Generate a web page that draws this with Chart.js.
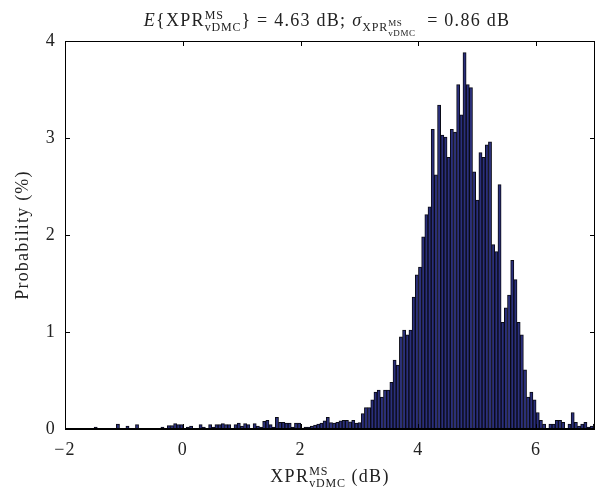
<!DOCTYPE html>
<html>
<head>
<meta charset="utf-8">
<script src="https://cdn.jsdelivr.net/npm/chart.js@4/dist/chart.umd.min.js"></script>
<style>
  html, body { margin: 0; padding: 0; background: #fff; }
  #wrap { width: 598px; height: 495px; position: relative; }
</style>
</head>
<body>
<div id="wrap"><canvas id="chart"></canvas></div>
<script>
// histogram bins: first bin starts at binStart, all bins binWidth wide (dB)
const binStart = -1.992;
const binWidth = 0.054;

// probability (%) per bin
const probability = [
  0, 0, 0, 0, 0, 0, 0, 0, 0, 0.02,
  0, 0, 0, 0, 0, 0, 0.05, 0, 0, 0.03,
  0, 0, 0.045, 0, 0, 0, 0, 0, 0, 0,
  0.02, 0, 0.035, 0.035, 0.055, 0.045, 0.045, 0, 0.02, 0.03,
  0, 0, 0.045, 0.02, 0, 0.045, 0.02, 0.045, 0.045, 0.055,
  0.045, 0.045, 0, 0.045, 0.06, 0.03, 0.055, 0.045, 0, 0.055,
  0.03, 0.02, 0.08, 0.09, 0.045, 0.02, 0.12, 0.07, 0.07, 0.06,
  0.06, 0.02, 0.06, 0.06, 0.01, 0.02, 0.02, 0.03, 0.04, 0.05,
  0.06, 0.085, 0.12, 0.065, 0.06, 0.07, 0.085, 0.09, 0.09, 0.075,
  0.09, 0.06, 0.065, 0.16, 0.22, 0.22, 0.30, 0.38, 0.40, 0.33,
  0.40, 0.40, 0.48, 0.71, 0.66, 0.95, 1.02, 0.97, 1.02, 1.36,
  1.59, 1.67, 1.98, 2.21, 2.29, 3.09, 2.62, 3.34, 3.03, 3.01,
  2.80, 3.09, 3.06, 3.55, 3.24, 3.88, 3.55, 3.52, 2.65, 2.36,
  2.85, 2.80, 2.93, 2.96, 1.90, 1.83, 2.52, 1.10, 1.25, 1.38,
  1.74, 1.54, 1.10, 0.97, 0.61, 0.33, 0.38, 0.30, 0.17, 0.09,
  0.05, 0, 0.05, 0.05, 0.09, 0.09, 0.07, 0, 0.05, 0.17,
  0.07, 0.03, 0.05, 0.07, 0.02, 0.03, 0.05
];

const xTicks = [-2, 0, 2, 4, 6];
const yTicks = [0, 1, 2, 3, 4];

const serif = "'Liberation Serif', 'DejaVu Serif', serif";
const spacing = "1.2px";

const points = probability.map((p, i) => ({ x: binStart + (i + 0.5) * binWidth, y: p }));

// text with sub/superscripts, drawn on the canvas
// part: {t, it, s, dy} or {stack: [part, part]}
function setFont(ctx, p) {
  ctx.font = (p.it ? "italic " : "") + p.s + "px " + serif;
  ctx.letterSpacing = (p.s * 0.07).toFixed(2) + "px";
}
function partWidth(ctx, p) {
  if (p.stack) return Math.max(...p.stack.map((q) => partWidth(ctx, q)));
  setFont(ctx, p);
  return ctx.measureText(p.t).width;
}
function drawParts(ctx, parts, cx, base) {
  ctx.save();
  const total = parts.reduce((a, p) => a + partWidth(ctx, p), 0);
  let x = cx - total / 2;
  ctx.fillStyle = "#222";
  ctx.textAlign = "left";
  ctx.textBaseline = "alphabetic";
  parts.forEach((p) => {
    const w = partWidth(ctx, p);
    (p.stack || [p]).forEach((q) => {
      setFont(ctx, q);
      ctx.fillText(q.t, x, base + (q.dy || 0));
    });
    x += w;
  });
  ctx.restore();
}

const titleParts = [
  { t: "E", it: true, s: 18 },
  { t: "{XPR", s: 18 },
  { stack: [{ t: "MS", s: 12, dy: -7 }, { t: "vDMC", s: 12, dy: 5 }] },
  { t: "} = 4.63 dB; ", s: 18 },
  { t: "σ", it: true, s: 18 },
  { t: "XPR", s: 12, dy: 5 },
  { stack: [{ t: "MS", s: 9, dy: 0 }, { t: "vDMC", s: 9, dy: 10 }] },
  { t: "  = 0.86 dB", s: 18 },
];

const xTitleParts = [
  { t: "XPR", s: 18 },
  { stack: [{ t: "MS", s: 12, dy: -7 }, { t: "vDMC", s: 12, dy: 5 }] },
  { t: " (dB)", s: 18 },
];

const framePlugin = {
  id: "frame",
  beforeLayout(chart) {
    chart.ctx.letterSpacing = spacing;
  },
  beforeDraw(chart) {
    chart.ctx.letterSpacing = spacing;
  },
  afterDatasetsDraw(chart) {
    const { ctx, chartArea: a, scales } = chart;
    ctx.save();
    ctx.strokeStyle = "#000";
    ctx.lineWidth = 1;
    ctx.strokeRect(a.left + 0.5, a.top + 0.5, a.right - a.left - 1, a.bottom - a.top);
    ctx.beginPath();
    xTicks.forEach((v) => {
      const px = Math.round(scales.x.getPixelForValue(v)) + 0.5;
      ctx.moveTo(px, a.top);
      ctx.lineTo(px, a.top + 5);
      ctx.moveTo(px, a.bottom);
      ctx.lineTo(px, a.bottom - 5);
    });
    yTicks.forEach((v) => {
      const py = Math.round(scales.y.getPixelForValue(v)) + 0.5;
      ctx.moveTo(a.left, py);
      ctx.lineTo(a.left + 5, py);
      ctx.moveTo(a.right, py);
      ctx.lineTo(a.right - 5, py);
    });
    ctx.stroke();
    // baseline made thick by the empty bins' edges
    ctx.lineWidth = 2;
    ctx.beginPath();
    ctx.moveTo(a.left, a.bottom);
    ctx.lineTo(a.right, a.bottom);
    ctx.stroke();
    ctx.restore();
  },
  afterDraw(chart) {
    const { ctx, chartArea: a } = chart;
    const cx = (a.left + a.right) / 2;
    drawParts(ctx, titleParts, cx - 3, 26);
    drawParts(ctx, xTitleParts, cx, 482);
  },
};

const chart = new Chart(document.getElementById("chart").getContext("2d"), {
  type: "bar",
  data: {
    datasets: [
      {
        data: points,
        backgroundColor: "#2a2f7c",
        borderColor: "#0a0a14",
        borderWidth: 1,
        borderSkipped: "start",
        barPercentage: 1,
        categoryPercentage: 1,
      },
    ],
  },
  options: {
    responsive: true,
    maintainAspectRatio: false,
    animation: false,
    layout: { padding: { left: 0, right: 3, top: 41, bottom: 0 } },
    plugins: {
      legend: { display: false },
      tooltip: { enabled: false },
    },
    scales: {
      x: {
        type: "linear",
        min: -2,
        max: 7,
        offset: false,
        afterBuildTicks: (scale) => {
          scale.ticks = xTicks.map((v) => ({ value: v }));
        },
        afterFit: (scale) => {
          scale.height = 66;
        },
        grid: { display: false, drawTicks: false, offset: false },
        border: { display: false },
        ticks: {
          color: "#222",
          padding: 10,
          maxRotation: 0,
          font: { family: serif, size: 18 },
          callback: (v) => (v < 0 ? "\u2212" + Math.abs(v) : String(v)),
        },
      },
      y: {
        min: 0,
        max: 4,
        afterBuildTicks: (scale) => {
          scale.ticks = yTicks.map((v) => ({ value: v }));
        },
        afterFit: (scale) => {
          scale.width = 65;
        },
        grid: { display: false, drawTicks: false },
        border: { display: false },
        ticks: {
          color: "#222",
          padding: 9,
          font: { family: serif, size: 18 },
        },
        title: {
          display: true,
          text: "Probability (%)",
          color: "#222",
          padding: { top: 12, bottom: 0 },
          font: { family: serif, size: 18 },
        },
      },
    },
  },
  plugins: [framePlugin],
});
</script>
</body>
</html>
